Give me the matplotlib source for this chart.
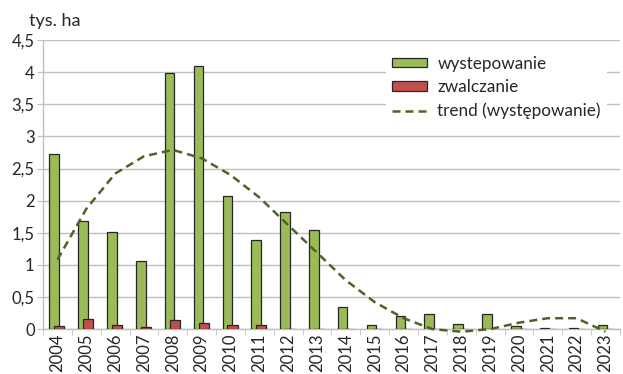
import matplotlib
matplotlib.use("Agg")
import matplotlib.pyplot as plt
import numpy as np

years = [str(y) for y in range(2004, 2024)]
# area in thousands of hectares
wystepowanie = [2.72, 1.69, 1.51, 1.06, 3.99, 4.09, 2.07, 1.38, 1.83, 1.55,
                0.34, 0.07, 0.20, 0.24, 0.08, 0.23, 0.05, 0.01, 0.01, 0.07]
zwalczanie = [0.05, 0.15, 0.06, 0.04, 0.14, 0.10, 0.07, 0.07, 0.005, 0.005,
              0.005, 0, 0, 0, 0, 0, 0, 0, 0, 0]
# polynomial trend at each year
trend = [1.08, 1.87, 2.42, 2.69, 2.79, 2.66, 2.40, 2.05, 1.62, 1.19,
         0.76, 0.42, 0.17, 0.0, -0.04, 0.0, 0.10, 0.17, 0.17, -0.04]
yticks = [0, 0.5, 1, 1.5, 2, 2.5, 3, 3.5, 4, 4.5]

plt.rcParams['font.family'] = ['Lato', 'DejaVu Sans']

fig = plt.figure(figsize=(6.23, 3.74), dpi=100)
ax = fig.add_axes([0.069, 0.12, 0.926, 0.773])

x = np.arange(len(years))
b1 = ax.bar(x - 0.11, wystepowanie, width=0.33, color='#9bbb59', edgecolor='#262626',
            linewidth=0.9, label='wystepowanie', zorder=3)
b2 = ax.bar(x + 0.07, zwalczanie, width=0.35, color='#c0504d', edgecolor='#262626',
            linewidth=0.9, label='zwalczanie', zorder=4)
l1, = ax.plot(x, trend, color='#4f6228', linestyle=(0, (3.2, 2)), linewidth=1.8,
              label='trend (występowanie)', zorder=5, clip_on=False)

ax.set_xlim(-0.5, len(years) - 0.5)
ax.set_ylim(0, 4.5)
ax.set_yticks(yticks)
ax.set_yticklabels([f"{v:g}".replace('.', ',') for v in yticks], fontsize=12)
ax.set_xticks(x)
ax.set_xticklabels(years, rotation=90, fontsize=12)
ax.set_xticks(np.arange(len(years) + 1) - 0.5, minor=True)
ax.tick_params(axis='x', which='major', length=0, pad=3, colors='#262626')
ax.tick_params(axis='x', which='minor', length=4, color='#bfbfbf')
ax.tick_params(axis='y', length=4, color='#bfbfbf', pad=2, labelcolor='#262626')

ax.grid(axis='y', color='#bfbfbf', linewidth=1, zorder=0)
ax.set_axisbelow(True)
for s in ['top', 'right']:
    ax.spines[s].set_visible(False)
for s in ['left', 'bottom']:
    ax.spines[s].set_color('#bfbfbf')
    ax.spines[s].set_linewidth(1)

fig.text(0.046, 0.945, 'tys. ha', fontsize=13, color='#262626', va='center')

leg = ax.legend([b1, b2, l1], ['wystepowanie', 'zwalczanie', 'trend (występowanie)'],
                loc='upper left', bbox_to_anchor=(0.58, 0.995), fontsize=12.3,
                frameon=True, facecolor='white', edgecolor='none', framealpha=1,
                handlelength=2.05, handleheight=0.45, handletextpad=0.6,
                labelspacing=0.42, borderpad=0.35, fancybox=False)
leg.set_zorder(6)
for t in leg.get_texts():
    t.set_color('#262626')

fig.savefig('out.png', dpi=100)
